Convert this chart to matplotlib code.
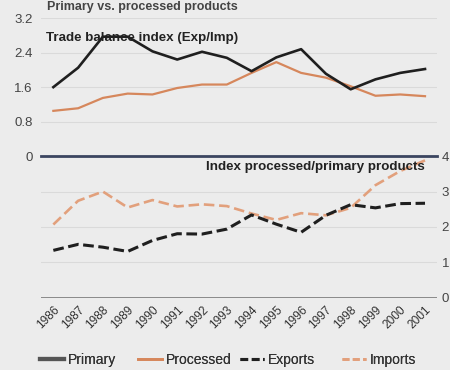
import matplotlib
matplotlib.use("Agg")
import matplotlib.pyplot as plt

years = [str(y) for y in range(1986, 2002)]

# Trade balance index (Exp/Imp) - top panel
primary = [1.60, 2.05, 2.77, 2.77, 2.43, 2.24, 2.42, 2.28, 1.97, 2.29, 2.48, 1.91, 1.55, 1.78, 1.93, 2.02]
processed = [1.05, 1.11, 1.35, 1.45, 1.43, 1.58, 1.66, 1.66, 1.93, 2.18, 1.93, 1.82, 1.62, 1.40, 1.43, 1.39]

# Index processed/primary products - bottom panel
exports = [1.34, 1.51, 1.43, 1.31, 1.62, 1.81, 1.80, 1.94, 2.34, 2.08, 1.85, 2.33, 2.63, 2.54, 2.66, 2.67]
imports = [2.07, 2.74, 3.00, 2.55, 2.76, 2.58, 2.64, 2.59, 2.38, 2.20, 2.39, 2.33, 2.54, 3.18, 3.58, 3.88]

top_ticks = [0, 0.8, 1.6, 2.4, 3.2]
top_tick_labels = ["0", "0.8", "1.6", "2.4", "3.2"]
bot_ticks = [0, 1, 2, 3, 4]
bot_tick_labels = ["0", "1", "2", "3", "4"]
legend_labels = ["Primary", "Processed", "Exports", "Imports"]

plt.rcParams['font.family'] = ['Liberation Sans', 'DejaVu Sans']

BG = '#ececec'
BLACK = '#1f1f1f'
ORANGE = '#d6875c'
ORANGE_L = '#e2a07c'
NAVY = '#3b4560'
GRID = '#dadada'

fig = plt.figure(figsize=(4.5, 3.7), dpi=100, facecolor=BG)

x = list(range(len(years)))

# top panel
ax1 = fig.add_axes([0.091, 0.578, 0.881, 0.373], facecolor='none')
ax1.plot(x, processed, color=ORANGE, lw=1.6, zorder=3)
ax1.plot(x, primary, color=BLACK, lw=1.9, zorder=4)
ax1.set_xlim(-0.5, len(years) - 0.5)
ax1.set_ylim(0, 3.2)
ax1.set_yticks(top_ticks)
ax1.set_yticklabels(top_tick_labels, fontsize=9.5, color='#444444')
ax1.tick_params(axis='y', length=0, pad=6)
ax1.set_xticks([])
for s in ax1.spines.values():
    s.set_visible(False)
for t in top_ticks[1:]:
    ax1.axhline(t, color=GRID, lw=0.8, zorder=1)
ax1.axhline(0, color=NAVY, lw=2.0, zorder=5, clip_on=False)
ax1.text(-0.3, 2.74, "Trade balance index (Exp/Imp)", fontsize=9.6,
         fontweight='bold', color='#222222', ha='left', va='center', zorder=6)

# bottom panel
ax2 = fig.add_axes([0.091, 0.195, 0.881, 0.383], facecolor='none')
ax2.plot(x, imports, color=ORANGE_L, lw=1.9, ls=(0, (4, 1.8)), zorder=3)
ax2.plot(x, exports, color=BLACK, lw=2.2, ls=(0, (3.5, 1.5)), zorder=4)
ax2.set_xlim(-0.5, len(years) - 0.5)
ax2.set_ylim(0, 4)
ax2.yaxis.tick_right()
ax2.set_yticks(bot_ticks)
ax2.set_yticklabels(bot_tick_labels, fontsize=9.5, color='#444444')
ax2.tick_params(axis='y', length=0, pad=3)
ax2.set_xticks(x)
ax2.set_xticklabels(years, rotation=45, ha='right', rotation_mode='anchor',
                    fontsize=8.6, color='#333333')
ax2.tick_params(axis='x', length=0, pad=4)
for s in ax2.spines.values():
    s.set_visible(False)
for t in bot_ticks[1:4]:
    ax2.axhline(t, color=GRID, lw=0.8, zorder=1)
ax2.axhline(0, color='#8a8a8a', lw=1.4, zorder=2)
ax2.text(15.0, 3.68, "Index processed/primary products", fontsize=9.6,
         fontweight='bold', color='#222222', ha='right', va='center', zorder=6)

# title (partly cut off at the top in the reference; kept fully visible here)
fig.text(0.105, 0.997, "Primary vs. processed products", fontsize=9,
         fontweight='bold', color='#444444', ha='left', va='top')

# legend (four separately placed entries, as in the reference)
h1, = ax1.plot([], [], color='#555555', lw=3.0)
h2, = ax1.plot([], [], color=ORANGE, lw=2.0)
h3, = ax1.plot([], [], color=BLACK, lw=2.2, ls=(0, (2.5, 1.2)))
h4, = ax1.plot([], [], color=ORANGE_L, lw=2.0, ls=(0, (2.5, 1.2)))
handles = [h1, h2, h3, h4]
leg_x = [40, 138, 240, 342]
for h, lab, lx in zip(handles, legend_labels, leg_x):
    lg = fig.legend([h], [lab], loc='center left',
                    bbox_to_anchor=(lx / 450, 1 - 360 / 370), frameon=False,
                    fontsize=10, handlelength=1.7, handletextpad=0.3,
                    borderpad=0, borderaxespad=0, labelcolor='#333333')
    fig.add_artist(lg)

fig.savefig("out.png", dpi=100, facecolor=BG)
